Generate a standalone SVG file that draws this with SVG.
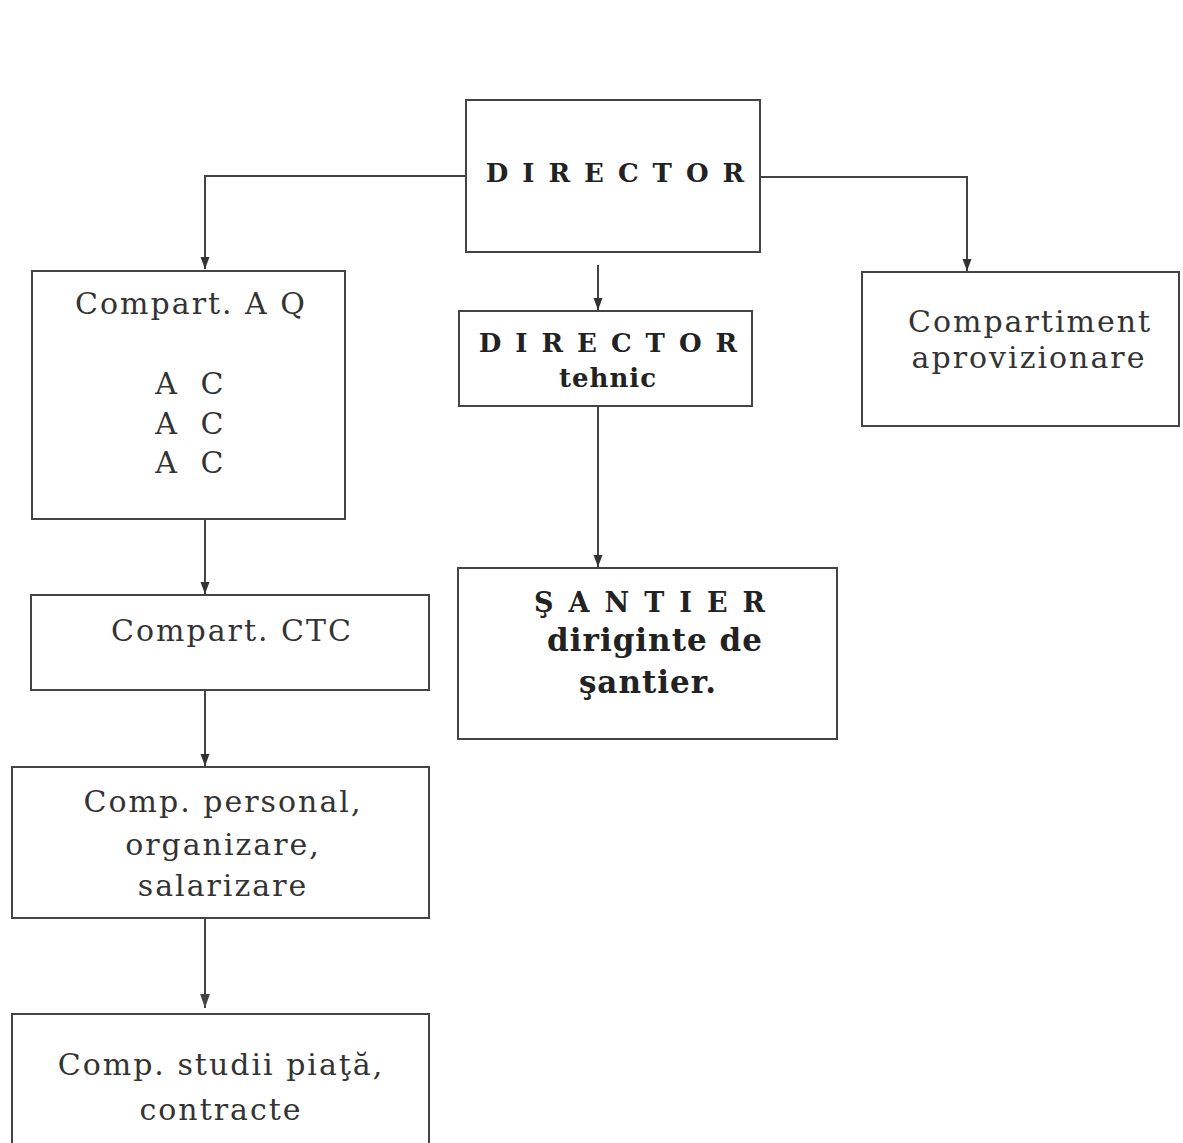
<svg xmlns="http://www.w3.org/2000/svg" width="1183" height="1143" viewBox="0 0 1183 1143">
<defs>
<marker id="a" markerWidth="12" markerHeight="16" refX="16" refY="6" orient="auto" markerUnits="userSpaceOnUse" viewBox="0 0 16 12">
<path d="M0,0 L16,6 L0,12 Z" fill="#333"/>
</marker>
<marker id="a2" markerWidth="14" markerHeight="20" refX="20" refY="7" orient="auto" markerUnits="userSpaceOnUse" viewBox="0 0 20 14">
<path d="M0,0 L20,7 L0,14 Z" fill="#444"/>
</marker>
<style>
.box{fill:#fff;stroke:#444;stroke-width:2}
.t{font-family:"DejaVu Serif","Liberation Serif",serif;font-size:30px;letter-spacing:2px;fill:#333;text-anchor:middle}
.b{font-family:"DejaVu Serif","Liberation Serif",serif;font-weight:bold;fill:#222;text-anchor:middle}
.c{fill:none;stroke:#444;stroke-width:2;marker-end:url(#a)}
</style>
</defs>
<rect width="1183" height="1143" fill="#fff"/>
<g id="connectors">
<path class="c" d="M466,176 H205 V269"/>
<path class="c" d="M760,177 H967 V271"/>
<path class="c" d="M598,265 V310"/>
<path class="c" d="M598,406 V567"/>
<path class="c" d="M205,519 V594"/>
<path class="c" d="M205,690 V766"/>
<path class="c" d="M205,918 V1008" marker-end="url(#a2)" style="marker-end:url(#a2)"/>
</g>
<g id="director">
<rect class="box" x="466" y="100" width="294" height="152"/>
<text class="b" x="622" y="182" font-size="26" letter-spacing="14">DIRECTOR</text>
</g>
<g id="compart-aq">
<rect class="box" x="32" y="271" width="313" height="248"/>
<text class="t" x="191" y="314">Compart. A Q</text>
<text class="t" x="167" y="394">A</text><text class="t" x="213" y="394">C</text>
<text class="t" x="167" y="434">A</text><text class="t" x="213" y="434">C</text>
<text class="t" x="167" y="473">A</text><text class="t" x="213" y="473">C</text>
</g>
<g id="director-tehnic">
<rect class="box" x="459" y="311" width="293" height="95"/>
<text class="b" x="615" y="352" font-size="26" letter-spacing="14">DIRECTOR</text>
<text class="b" x="608" y="387" font-size="26" letter-spacing="1">tehnic</text>
</g>
<g id="compartiment-aprovizionare">
<rect class="box" x="862" y="272" width="317" height="154"/>
<text class="t" x="1030" y="332">Compartiment</text>
<text class="t" x="1029" y="368">aprovizionare</text>
</g>
<g id="santier">
<rect class="box" x="458" y="568" width="379" height="171"/>
<text class="b" x="657" y="612" font-size="27" letter-spacing="15">ŞANTIER</text>
<text class="b" x="655" y="651" font-size="31" letter-spacing="1">diriginte de</text>
<text class="b" x="648" y="693" font-size="31" letter-spacing="1">şantier.</text>
</g>
<g id="compart-ctc">
<rect class="box" x="31" y="595" width="398" height="95"/>
<text class="t" x="232" y="641">Compart. CTC</text>
</g>
<g id="comp-personal">
<rect class="box" x="12" y="767" width="417" height="151"/>
<text class="t" x="223" y="812">Comp. personal,</text>
<text class="t" x="223" y="855">organizare,</text>
<text class="t" x="223" y="896">salarizare</text>
</g>
<g id="comp-studii">
<rect class="box" x="12" y="1014" width="417" height="140"/>
<text class="t" x="221" y="1075">Comp. studii piaţă,</text>
<text class="t" x="221" y="1120">contracte</text>
</g>
</svg>
